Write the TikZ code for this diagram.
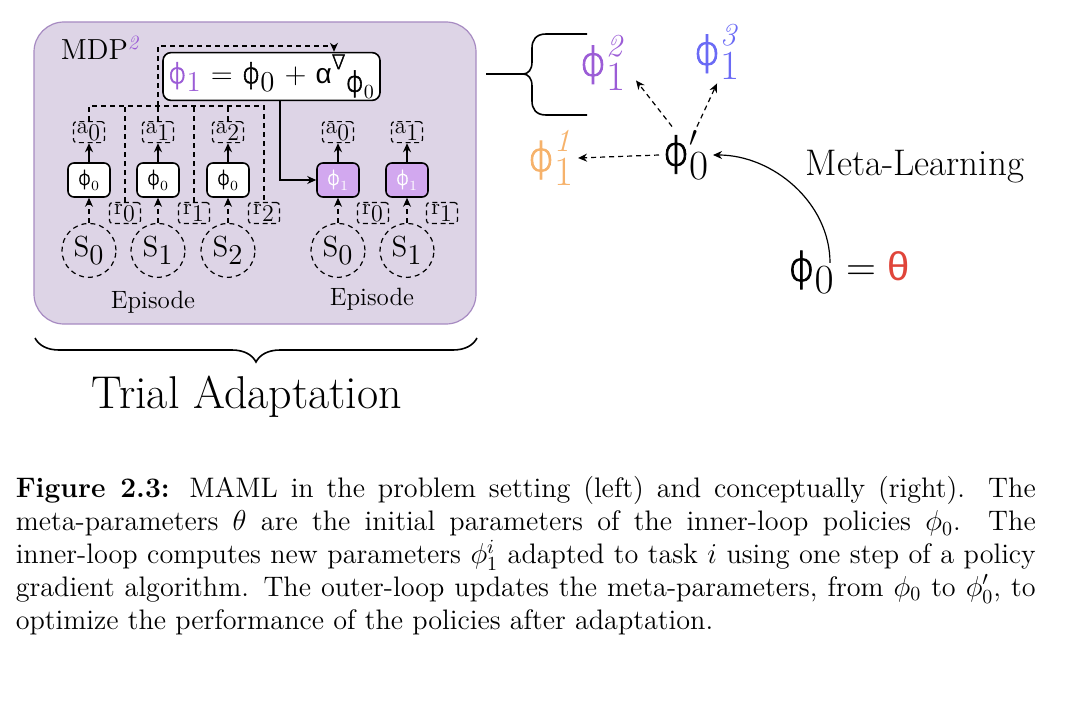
\documentclass[tikz,border=0pt]{standalone}
\usepackage{amsmath}
\usepackage{fontspec}
\usepackage{xcolor}
\usetikzlibrary{positioning,decorations.pathreplacing,arrows.meta}
\newfontfamily\grk{DejaVu Sans}[UprightFont=* ExtraLight, RawFeature={embolden=2}]
\newfontfamily\grkb{Liberation Sans}
\definecolor{mdpfill}{HTML}{DDD4E6}
\definecolor{mdpline}{HTML}{A78BC2}
\definecolor{polfill}{HTML}{D2A8EF}
\definecolor{fpurple}{HTML}{9B5CD6}
\definecolor{fblue}{HTML}{6A6AF5}
\definecolor{forange}{HTML}{F6B26B}
\definecolor{fred}{HTML}{E0453A}
\newcommand{\gphi}{\text{\grk ϕ}}
\newcommand{\tsk}[1]{\text{\fontsize{16}{16}\selectfont\itshape #1}}

\begin{document}
\begin{tikzpicture}[x=0.5pt, y=-0.5pt, thick, >={Stealth[length=4.5pt,width=4pt]},
    mdpbox/.style = {draw=mdpline, fill=mdpfill, line width=0.6pt, rounded corners=15pt, minimum width=221pt, minimum height=151pt},
    updbox/.style = {draw, fill=white, rounded corners=4pt, minimum width=108.5pt, minimum height=21.5pt, inner sep=1pt, font=\fontsize{14}{16}\selectfont},
    polbox/.style = {draw, fill=white, rounded corners=3pt, minimum width=21pt, minimum height=17pt, inner sep=1pt, font=\fontsize{10}{12}\selectfont},
    newpol/.style = {polbox, fill=polfill, text=white},
    obsbox/.style = {draw, semithick, dash pattern=on 2.5pt off 1.8pt, rounded corners=1.5pt, minimum width=15.5pt, minimum height=10.5pt, inner sep=0.5pt, font=\fontsize{11.5}{12}\selectfont},
    stnode/.style = {draw, semithick, dash pattern=on 2.5pt off 2pt, circle, minimum size=27pt, inner sep=0pt, font=\fontsize{14.5}{16}\selectfont},
    dsh/.style = {semithick, dash pattern=on 2.5pt off 2pt},
    big/.style = {inner sep=1.5pt, font=\fontsize{20}{22}\selectfont}]
    \useasboundingbox (0,0) rectangle (1080,701);

    % trial: MDP box
    \node[mdpbox] (mdp) at (255,173) {};
    \node[anchor=base west, inner sep=0pt, font=\fontsize{14.5}{16}\selectfont] (mdplbl) at (60,60) {MDP\textsuperscript{\textcolor{fpurple}{\itshape 2}}};
    \node[updbox] (upd) at (271.5,76.5) {\textcolor{fpurple}{$\gphi_{\textstyle 1}$} $=$ $\gphi_{\textstyle 0}$ $+$ {\grkb α}\raisebox{0.5em}{\grk\fontsize{10}{10}\selectfont ∇}\raisebox{-0.3em}{$\gphi_0$}};

    % first episode
    \foreach \i/\x in {0/89,1/158,2/228}{
        \node[polbox] (p\i) at (\x,180) {$\gphi_0$};
        \node[obsbox, above=9.5pt of p\i] (a\i) {a$_{\textstyle\i}$};
        \node[stnode, below=12.5pt of p\i] (s\i) {S$_{\textstyle\i}$};
        \node[obsbox] (r\i) at (\x+36,213) {r$_{\textstyle\i}$};
        \draw[->] (p\i) -- (a\i);
        \draw[dsh,->] (s\i) -- (p\i);
    }

    % second episode, adapted policy
    \foreach \i/\x in {0/338,1/407}{
        \node[newpol] (q\i) at (\x,180) {$\gphi_1$};
        \node[obsbox, above=9.5pt of q\i] (b\i) {a$_{\textstyle\i}$};
        \node[stnode, below=12.5pt of q\i] (t\i) {S$_{\textstyle\i}$};
        \node[obsbox] (rr\i) at (\x+35,213) {r$_{\textstyle\i}$};
        \draw[->] (q\i) -- (b\i);
        \draw[dsh,->] (t\i) -- (q\i);
    }

    % collect a and r, then update
    \coordinate (bus) at (0,106);
    \coordinate (gtop) at (334,46);
    \coordinate (fork) at (280,0);
    \draw[dsh] (a0.north) -- (a0.north |- bus) -- (r2.north |- bus) -- (r2.north);
    \foreach \n in {r0,a1,r1,a2}
        \draw[dsh] (\n.north) -- (\n.north |- bus);
    \draw[dsh,->] (a1.north |- bus) |- (gtop) -- (gtop |- upd.north);
    \draw[->] (upd.south -| fork) |- (q0.west);

    \node[anchor=base, font=\fontsize{12.5}{14}\selectfont] (ep1) at (153,308) {Episode};
    \node[anchor=base, font=\fontsize{12.5}{14}\selectfont] (ep2) at (372,305) {Episode};

    \draw[decorate, decoration={brace, mirror, amplitude=12pt}] (35,338) -- (477,338);
    \node[anchor=base, font=\fontsize{23}{26}\selectfont] (trial) at (247,408) {Trial Adaptation};

    % meta-learning side
    \coordinate (bstart) at (486,74);
    \coordinate (btip) at (523,74);
    \draw (bstart) -- (btip);
    \draw (587,34) -- (546,34) .. controls (536,34) and (532,40) .. (532,48) -- (532,62)
        .. controls (532,70) and (528,74) .. (btip) .. controls (528,74) and (532,78) .. (532,86)
        -- (532,101) .. controls (532,109) and (536,115) .. (546,115) -- (587,115);

    \node[big] (phi0) at (686,155) {$\gphi'_{\textstyle 0}$};
    \node[big, text=forange] (phi11) at (551,158) {$\gphi^{\tsk{1}}_{\textstyle 1}$};
    \node[big, text=fpurple] (phi12) at (603,63) {$\gphi^{\tsk{2}}_{\textstyle 1}$};
    \node[big, text=fblue] (phi13) at (717,52) {$\gphi^{\tsk{3}}_{\textstyle 1}$};
    \node[big] (phith) at (849,272) {$\gphi_{\textstyle 0} = \textcolor{fred}{\text{\grkb θ}}$};
    \node[anchor=base west, inner sep=0pt, font=\fontsize{18.5}{21}\selectfont] (meta) at (805,175) {Meta-Learning};

    \draw[dsh,->] (phi0.west) -- (phi11.east);
    \draw[dsh,->] ([xshift=-7pt]phi0.north) -- ([xshift=3pt,yshift=7pt]phi12.south east);
    \draw[dsh,->] ([xshift=5.5pt]phi0.north) -- (phi13.south);
    \draw[semithick,->] ([xshift=-9.5pt,yshift=-8pt]phith.north) .. controls +(0,-60) and +(60,0) .. (phi0.east);

    % caption
    \node[anchor=north west, inner sep=0pt, text width=510pt, align=justify, font=\fontsize{14.1}{16.4}\selectfont] (cap) at (15,476)
        {\textbf{Figure 2.3:} MAML in the problem setting (left) and conceptually (right). The\linebreak
        meta-parameters $\theta$ are the initial parameters of the inner-loop policies $\phi_0$. The\linebreak
        inner-loop computes new parameters $\phi_1^i$ adapted to task $i$ using one step of a policy\linebreak
        gradient algorithm. The outer-loop updates the meta-parameters, from $\phi_0$ to $\phi_0'$, to\linebreak
        optimize the performance of the policies after adaptation.};
\end{tikzpicture}
\end{document}
